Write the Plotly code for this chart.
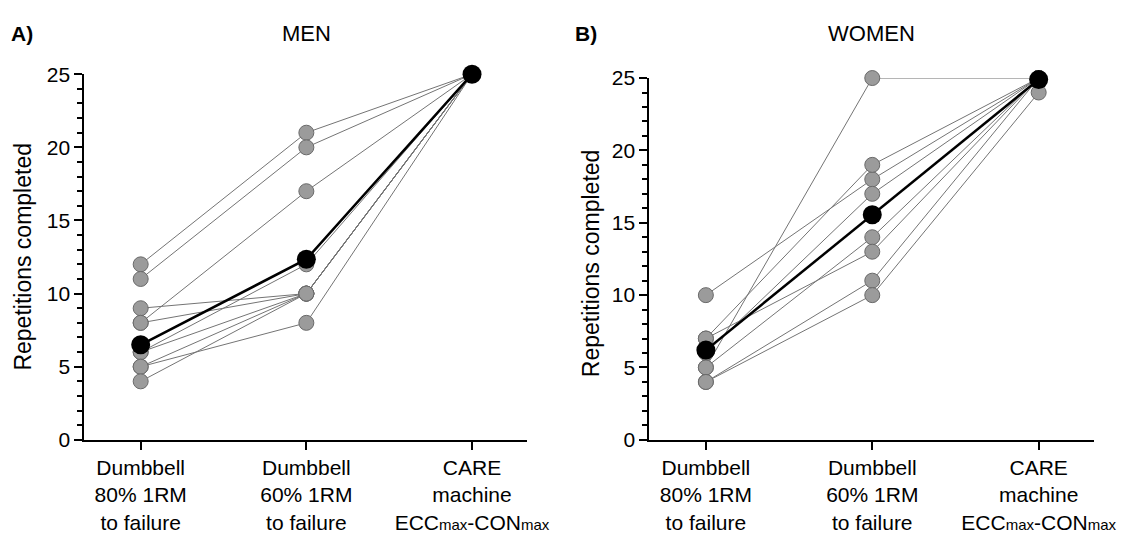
import plotly.graph_objects as go

# ---------------- data ----------------
categories = ["Dumbbell<br>80% 1RM<br>to failure",
              "Dumbbell<br>60% 1RM<br>to failure",
              "CARE<br>machine<br>ECC<span style='font-size:15px'>max</span>-CON<span style='font-size:15px'>max</span>"]

men_80 = [12, 11, 9, 8, 8, 6, 6, 5, 5, 4]
men_60 = [21, 20, 10, 17, 10, 12, 10, 10, 8, 10]
men_care = [25, 25, 25, 25, 25, 25, 25, 25, 25, 25]
men_mean = [6.5, 12.35, 25]

women_80 = [10, 7, 5, 6, 5, 7, 4, 4]
women_60 = [18, 19, 25, 17, 14, 13, 11, 10]
women_care = [25, 25, 25, 25, 25, 25, 25, 24]
women_mean = [6.2, 15.55, 24.9]

y_ticks = [0, 5, 10, 15, 20, 25]

W, H = 1146, 537
FONT = "Liberation Sans, Arial, sans-serif"

def px_x(p):
    return p / W

def px_y(p):
    return 1 - p / H

fig = go.Figure()

def add_panel(v80, v60, vcare, vmean, xa, ya):
    xs = [0, 1, 2]
    for a, b, c in zip(v80, v60, vcare):
        fig.add_trace(go.Scatter(x=xs, y=[a, b, c], mode="lines",
                                 line=dict(color="#747474", width=1),
                                 xaxis=xa, yaxis=ya, showlegend=False,
                                 hoverinfo="skip", cliponaxis=False))
    allx, ally = [], []
    for a, b, c in zip(v80, v60, vcare):
        allx += xs
        ally += [a, b, c]
    fig.add_trace(go.Scatter(x=allx, y=ally, mode="markers",
                             marker=dict(size=15, color="#9b9b9b",
                                         line=dict(color="#6a6a6a", width=1)),
                             xaxis=xa, yaxis=ya, showlegend=False, cliponaxis=False))
    fig.add_trace(go.Scatter(x=xs, y=vmean, mode="lines+markers",
                             line=dict(color="black", width=2.5),
                             marker=dict(size=19, color="black"),
                             xaxis=xa, yaxis=ya, showlegend=False, cliponaxis=False))

add_panel(men_80, men_60, men_care, men_mean, "x", "y")
add_panel(women_80, women_60, women_care, women_mean, "x2", "y2")

xaxis_common = dict(range=[-0.34, 2.33], tickvals=[0, 1, 2], ticktext=categories,
                    showline=True, linecolor="black", linewidth=2,
                    ticks="outside", ticklen=8, tickwidth=2, tickcolor="black",
                    showgrid=False, zeroline=False,
                    tickfont=dict(family=FONT, size=21, color="black"))
yaxis_common = dict(range=[0, 25], tickvals=y_ticks,
                    showline=True, linecolor="black", linewidth=2,
                    ticks="outside", ticklen=8, tickwidth=2, tickcolor="black",
                    minor=dict(dtick=1, ticks="outside", ticklen=5, tickwidth=2, tickcolor="black"),
                    showgrid=False, zeroline=False,
                    tickfont=dict(family=FONT, size=21, color="black"))

fig.update_layout(
    width=W, height=H,
    margin=dict(l=0, r=0, t=0, b=0),
    paper_bgcolor="white", plot_bgcolor="white",
    xaxis=dict(domain=[px_x(86), px_x(537)], anchor="y", **xaxis_common),
    yaxis=dict(domain=[px_y(447), px_y(65)], anchor="x", **yaxis_common),
    xaxis2=dict(domain=[px_x(662), px_x(1115)], anchor="y2", **xaxis_common),
    yaxis2=dict(domain=[px_y(447), px_y(69)], anchor="x2", **yaxis_common),
)

ann = []
ann.append(dict(text="<b>A)</b>", x=px_x(9), y=px_y(22), xref="paper", yref="paper",
                xanchor="left", yanchor="middle", showarrow=False,
                font=dict(family=FONT, size=21, color="black")))
ann.append(dict(text="<b>B)</b>", x=px_x(584), y=px_y(22), xref="paper", yref="paper",
                xanchor="left", yanchor="middle", showarrow=False,
                font=dict(family=FONT, size=21, color="black")))
ann.append(dict(text="MEN", x=px_x(312), y=px_y(22), xref="paper", yref="paper",
                xanchor="center", yanchor="middle", showarrow=False,
                font=dict(family=FONT, size=22, color="black")))
ann.append(dict(text="WOMEN", x=px_x(889), y=px_y(22), xref="paper", yref="paper",
                xanchor="center", yanchor="middle", showarrow=False,
                font=dict(family=FONT, size=22, color="black")))
ann.append(dict(text="Repetitions completed", x=px_x(23), y=px_y(256), xref="paper", yref="paper",
                xanchor="center", yanchor="middle", showarrow=False, textangle=-90,
                font=dict(family=FONT, size=23, color="black")))
ann.append(dict(text="Repetitions completed", x=px_x(602), y=px_y(262), xref="paper", yref="paper",
                xanchor="center", yanchor="middle", showarrow=False, textangle=-90,
                font=dict(family=FONT, size=23, color="black")))
fig.update_layout(annotations=ann)

fig.write_html("out.html")
